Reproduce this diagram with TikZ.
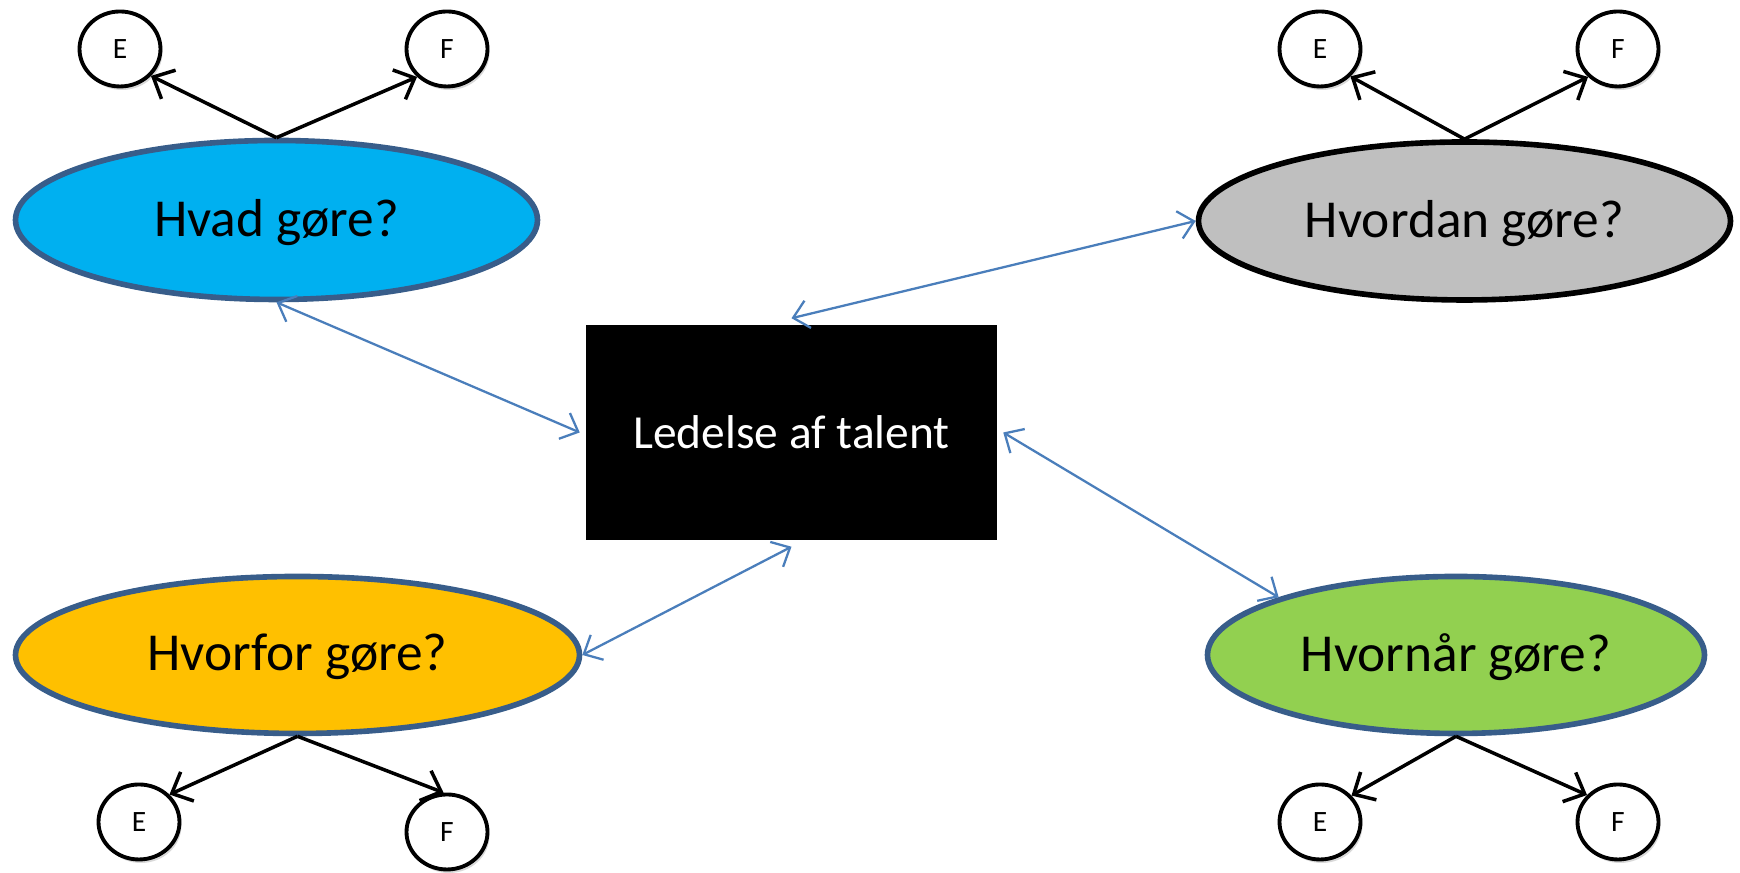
\documentclass[tikz,border=0pt]{standalone}
\usepackage{fontspec}
\setmainfont{Carlito}
\usetikzlibrary{arrows.meta,shapes.geometric,shadows}
\definecolor{ppblue}{HTML}{385D8A}
\definecolor{linkblue}{HTML}{4A7EBB}
\definecolor{hvadfill}{HTML}{00B0F0}
\definecolor{hvordanfill}{HTML}{BFBFBF}
\definecolor{hvorforfill}{HTML}{FFC000}
\definecolor{hvornarfill}{HTML}{92D050}
\begin{document}
\begin{tikzpicture}[
  question/.style={ellipse, draw=ppblue, line width=1.6pt, inner sep=0pt, text depth=0.05cm, font=\fontsize{15.2}{18}\selectfont},
  leaf/.style={ellipse, draw=black, fill=white, line width=1.1pt, minimum width=0.81cm, minimum height=0.75cm, inner sep=0pt, font=\fontsize{8.4}{10}\selectfont, drop shadow={shadow xshift=0.02cm, shadow yshift=-0.035cm, opacity=0.3}},
  branch/.style={line width=1pt, -{Straight Barb[length=0.17cm,width=0.32cm]}},
  link/.style={draw=linkblue, line width=0.65pt, {Straight Barb[length=0.15cm,width=0.28cm]}-{Straight Barb[length=0.15cm,width=0.28cm]}}
]
\useasboundingbox (0,0) rectangle (17.4,8.73);
\node[question, fill=hvadfill, minimum width=5.22cm, minimum height=1.59cm] (hvad) at (2.765,6.53) {Hvad gøre?};
\node[question, draw=black, fill=hvordanfill, minimum width=5.32cm, minimum height=1.58cm] (hvordan) at (14.645,6.52) {Hvordan gøre?};
\node[question, fill=hvorforfill, minimum width=5.64cm, minimum height=1.57cm] (hvorfor) at (2.975,2.18) {Hvorfor gøre?};
\node[question, fill=hvornarfill, minimum width=4.97cm, minimum height=1.57cm] (hvornar) at (14.56,2.18) {Hvornår gøre?};
\node[draw=white, fill=black, line width=0.065cm, minimum width=4.17cm, minimum height=2.22cm, text=white, font=\fontsize{13.5}{16}\selectfont, drop shadow={shadow xshift=0.015cm, shadow yshift=-0.03cm, opacity=0.35}] (talent) at (7.915,4.405) {Ledelse af talent};
\node[leaf] (hvadE) at (1.20,8.24) {E};
\node[leaf] (hvadF) at (4.47,8.24) {F};
\node[leaf] (hvordanE) at (13.20,8.24) {E};
\node[leaf] (hvordanF) at (16.18,8.24) {F};
\node[leaf] (hvorforE) at (1.39,0.51) {E};
\node[leaf] (hvorforF) at (4.47,0.41) {F};
\node[leaf] (hvornarE) at (13.20,0.51) {E};
\node[leaf] (hvornarF) at (16.18,0.51) {F};
\draw[branch] (hvad.north) -- (hvadE.-41);
\draw[branch] (hvad.north) -- (hvadF.223);
\draw[branch] (hvordan.north) -- (hvordanE.-42);
\draw[branch] (hvordan.north) -- (hvordanF.223);
\draw[branch] (hvorfor.south) -- (hvorforE.42);
\draw[branch] (hvorfor.south) -- (hvorforF.95);
\draw[branch] (hvornar.south) -- (hvornarE.40);
\draw[branch] (hvornar.south) -- (hvornarF.139);
\draw[link] (hvad.south) -- (talent.west);
\draw[link] (talent.north) -- (hvordan.west);
\draw[link] (talent.east) -- (hvornar.162);
\draw[link] (talent.south) -- (hvorfor.east);
\end{tikzpicture}
\end{document}
